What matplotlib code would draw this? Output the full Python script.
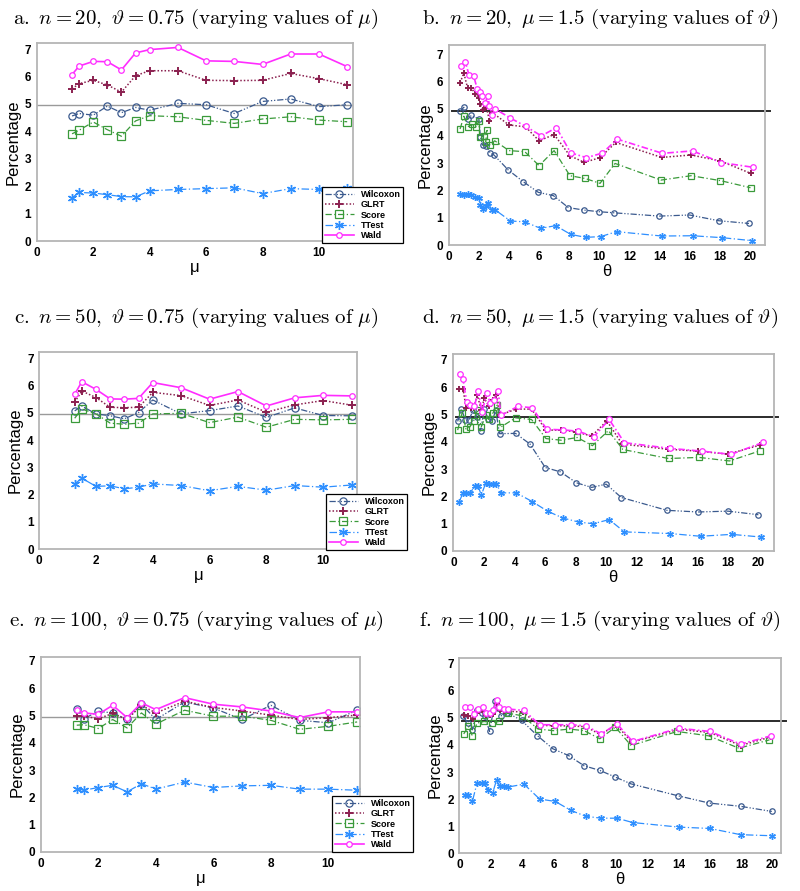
import matplotlib
matplotlib.use('Agg')
import matplotlib.pyplot as plt
from matplotlib.lines import Line2D

plt.rcParams['mathtext.fontset'] = 'cm'
plt.rcParams['font.family'] = ['Liberation Sans', 'DejaVu Sans']

# ---------------- data ----------------
# panels a, c, e : varying mu
mu_x = [1.25, 1.5, 2, 2.5, 3, 3.5, 4, 5, 6, 7, 8, 9, 10, 11]

a_wilcoxon = [4.56, 4.65, 4.59, 4.92, 4.68, 4.87, 4.77, 5.02, 4.97, 4.65, 5.09, 5.18, 4.90, 4.97]
a_glrt = [5.55, 5.74, 5.86, 5.69, 5.43, 6.03, 6.21, 6.21, 5.86, 5.85, 5.86, 6.11, 5.92, 5.70]
a_score = [3.91, 4.04, 4.34, 4.06, 3.82, 4.38, 4.57, 4.53, 4.40, 4.29, 4.45, 4.53, 4.41, 4.35]
a_ttest = [1.58, 1.77, 1.75, 1.69, 1.62, 1.61, 1.83, 1.88, 1.91, 1.94, 1.73, 1.91, 1.88, 1.94]
a_wald = [6.07, 6.38, 6.55, 6.54, 6.24, 6.86, 6.98, 7.06, 6.57, 6.55, 6.44, 6.82, 6.82, 6.36]

c_wilcoxon = [5.07, 5.25, 4.96, 4.89, 4.78, 5.01, 5.47, 4.96, 5.08, 5.25, 4.83, 5.18, 4.90, 4.89]
c_glrt = [5.39, 5.80, 5.56, 5.20, 5.19, 5.20, 5.75, 5.63, 5.27, 5.47, 5.02, 5.29, 5.45, 5.28]
c_score = [4.80, 5.14, 4.96, 4.62, 4.58, 4.62, 4.96, 4.98, 4.64, 4.84, 4.47, 4.76, 4.74, 4.76]
c_ttest = [2.39, 2.60, 2.30, 2.32, 2.21, 2.27, 2.39, 2.33, 2.14, 2.30, 2.16, 2.33, 2.27, 2.35]
c_wald = [5.68, 6.14, 5.86, 5.51, 5.50, 5.53, 6.11, 5.92, 5.50, 5.78, 5.25, 5.55, 5.64, 5.62]

e_wilcoxon = [5.25, 4.88, 5.15, 5.09, 4.85, 5.41, 4.85, 5.49, 5.27, 4.85, 5.37, 4.82, 4.73, 5.19]
e_glrt = [4.98, 4.97, 4.88, 5.07, 4.85, 5.37, 5.09, 5.52, 5.29, 5.16, 5.01, 4.85, 4.92, 5.01]
e_score = [4.64, 4.66, 4.52, 4.85, 4.54, 5.09, 4.68, 5.19, 4.97, 4.97, 4.82, 4.49, 4.60, 4.76]
e_ttest = [2.32, 2.26, 2.36, 2.44, 2.20, 2.50, 2.30, 2.56, 2.36, 2.42, 2.44, 2.30, 2.30, 2.26]
e_wald = [5.19, 5.09, 5.04, 5.37, 4.92, 5.46, 5.21, 5.65, 5.41, 5.31, 5.16, 4.92, 5.13, 5.13]

# panel b : n = 20, varying theta
b_wilcoxon_x = [0.75, 1.0, 1.25, 1.5, 2.0, 2.1, 2.25, 2.5, 2.75, 3.0, 3.95, 4.95, 5.95, 6.95, 7.95, 9.0, 10.0, 11.0, 14.0, 16.0, 17.95, 19.95]
b_wilcoxon = [4.9, 5.05, 4.6, 4.75, 4.62, 3.97, 3.66, 3.62, 3.38, 3.3, 2.75, 2.32, 1.93, 1.81, 1.37, 1.28, 1.22, 1.18, 1.06, 1.10, 0.89, 0.79]
b_glrt_x = [0.75, 1.0, 1.25, 1.5, 1.75, 2.0, 2.1, 2.25, 2.5, 2.7, 2.9, 4.0, 5.1, 6.0, 7.0, 8.05, 9.0, 10.05, 11.1, 14.15, 16.1, 18.05, 20.05]
b_glrt = [5.95, 6.3, 5.75, 5.75, 5.55, 5.4, 5.15, 4.95, 5.05, 4.55, 4.85, 4.4, 4.33, 3.82, 4.05, 3.27, 3.03, 3.2, 3.76, 3.21, 3.3, 3.08, 2.63]
b_score_x = [0.75, 1.0, 1.25, 1.55, 1.8, 2.0, 2.05, 2.35, 2.55, 2.45, 2.75, 3.05, 4.0, 5.05, 6.0, 7.0, 8.05, 9.05, 10.05, 11.05, 14.1, 16.1, 18.05, 20.05]
b_score = [4.25, 4.72, 4.33, 4.42, 4.33, 4.55, 3.97, 3.99, 4.2, 3.78, 3.66, 3.82, 3.46, 3.42, 2.91, 3.46, 2.54, 2.44, 2.26, 2.99, 2.38, 2.54, 2.36, 2.1]
b_ttest_x = [0.75, 1.0, 1.25, 1.5, 1.75, 2.0, 2.1, 2.25, 2.5, 2.6, 2.85, 3.05, 4.1, 5.05, 6.1, 7.1, 8.1, 9.1, 10.1, 11.15, 14.15, 16.2, 18.15, 20.15]
b_ttest = [1.87, 1.85, 1.87, 1.85, 1.75, 1.73, 1.45, 1.33, 1.43, 1.55, 1.3, 1.3, 0.88, 0.85, 0.61, 0.71, 0.39, 0.28, 0.31, 0.49, 0.33, 0.34, 0.27, 0.16]
b_wald_x = [0.8, 1.1, 1.35, 1.65, 1.9, 2.1, 2.2, 2.4, 2.6, 2.7, 2.9, 3.1, 4.1, 5.1, 6.15, 7.15, 8.1, 9.15, 10.2, 11.2, 14.2, 16.2, 18.1, 20.2]
b_wald = [6.55, 6.7, 6.22, 6.2, 5.7, 5.62, 5.45, 5.2, 5.45, 5.1, 4.75, 4.98, 4.65, 4.35, 4.0, 4.3, 3.38, 3.2, 3.37, 3.88, 3.36, 3.45, 3.02, 2.85]

# panel d : n = 50, varying theta
d_wilcoxon_x = [0.25, 0.5, 0.75, 1.0, 1.25, 1.5, 1.75, 2.0, 2.25, 2.5, 2.75, 3.0, 4.05, 5.0, 6.0, 7.0, 8.05, 9.05, 10.0, 11.0, 14.0, 16.05, 18.0, 20.0]
d_wilcoxon = [4.75, 5.2, 4.8, 4.8, 5.15, 4.9, 4.4, 5.2, 4.85, 4.75, 5.15, 4.3, 4.31, 3.92, 3.06, 2.90, 2.50, 2.33, 2.45, 1.96, 1.49, 1.43, 1.46, 1.33]
d_glrt_x = [0.35, 0.6, 0.8, 1.1, 1.3, 1.55, 1.8, 2.0, 2.3, 2.6, 2.8, 3.0, 4.1, 5.1, 6.05, 7.05, 8.0, 9.05, 10.05, 11.05, 14.05, 16.05, 18.0, 20.1]
d_glrt = [5.95, 5.95, 5.25, 5.25, 5.25, 5.7, 5.15, 5.6, 5.3, 5.55, 5.72, 4.98, 5.2, 5.2, 4.43, 4.43, 4.37, 4.21, 4.77, 3.92, 3.73, 3.66, 3.55, 3.88]
d_score_x = [0.25, 0.55, 0.8, 1.05, 1.3, 1.55, 1.8, 2.1, 2.3, 2.55, 2.85, 3.05, 4.05, 5.1, 6.05, 7.05, 8.1, 9.1, 10.15, 11.1, 14.1, 16.1, 18.1, 20.1]
d_score = [4.43, 5.07, 4.47, 4.55, 4.77, 5.17, 4.55, 4.98, 4.82, 5.04, 5.35, 4.53, 4.88, 4.82, 4.12, 4.06, 4.16, 3.86, 4.41, 3.72, 3.39, 3.43, 3.30, 3.67]
d_ttest_x = [0.35, 0.6, 0.8, 1.05, 1.4, 1.6, 1.8, 2.1, 2.3, 2.55, 2.8, 3.1, 4.1, 5.15, 6.15, 7.15, 8.2, 9.15, 10.2, 11.2, 14.2, 16.2, 18.25, 20.2]
d_ttest = [1.8, 2.13, 2.13, 2.13, 2.37, 2.37, 2.05, 2.5, 2.47, 2.45, 2.45, 2.13, 2.13, 1.81, 1.46, 1.21, 1.06, 1.0, 1.15, 0.70, 0.64, 0.54, 0.61, 0.51]
d_wald_x = [0.4, 0.6, 0.85, 1.05, 1.35, 1.6, 1.85, 2.15, 2.4, 2.65, 2.9, 3.1, 4.2, 5.15, 6.1, 7.15, 8.15, 9.2, 10.2, 11.2, 14.2, 16.3, 18.2, 20.3]
d_wald = [6.5, 6.3, 5.45, 5.35, 5.3, 5.88, 5.08, 5.78, 5.42, 5.55, 5.88, 4.97, 5.3, 5.25, 4.46, 4.44, 4.39, 4.19, 4.82, 3.97, 3.76, 3.66, 3.54, 3.98]

# panel f : n = 100, varying theta
f_wilcoxon_x = [0.2, 0.5, 0.8, 1.1, 1.4, 1.6, 1.9, 2.25, 2.45, 2.65, 3.0, 3.95, 4.95, 5.95, 6.95, 7.95, 8.95, 9.95, 10.95, 13.95, 15.95, 17.95, 19.95]
f_wilcoxon = [5.06, 4.83, 4.56, 5.3, 5.18, 5.08, 4.5, 5.61, 5.36, 5.08, 5.2, 4.91, 4.35, 3.86, 3.61, 3.23, 3.06, 2.81, 2.56, 2.12, 1.85, 1.73, 1.54]
f_glrt_x = [0.25, 0.55, 0.85, 1.1, 1.4, 1.65, 1.9, 2.1, 2.35, 2.55, 2.8, 3.05, 4.05, 5.05, 6.05, 7.05, 8.05, 9.0, 10.0, 11.0, 14.0, 16.0, 17.95, 19.9]
f_glrt = [5.12, 5.08, 4.96, 5.2, 5.3, 5.1, 5.12, 5.15, 5.5, 5.3, 5.25, 5.25, 5.22, 4.72, 4.72, 4.7, 4.68, 4.38, 4.75, 4.1, 4.58, 4.46, 3.98, 4.3]
f_score_x = [0.25, 0.55, 0.8, 1.1, 1.55, 2.05, 2.5, 3.05, 4.0, 5.0, 6.0, 7.0, 7.95, 8.95, 9.95, 10.95, 13.9, 15.9, 17.85, 19.8]
f_score = [4.41, 4.69, 4.34, 4.81, 4.87, 4.83, 4.87, 5.18, 5.08, 4.59, 4.53, 4.59, 4.53, 4.23, 4.66, 3.98, 4.50, 4.34, 3.88, 4.19]
f_ttest_x = [0.3, 0.55, 0.8, 1.1, 1.4, 1.6, 1.8, 2.1, 2.35, 2.55, 2.8, 3.05, 4.1, 5.1, 6.1, 7.1, 8.05, 9.05, 10.05, 11.05, 14.0, 16.0, 17.95, 19.95]
f_ttest = [2.16, 2.16, 1.91, 2.59, 2.59, 2.59, 2.34, 2.22, 2.71, 2.49, 2.47, 2.44, 2.55, 2.0, 1.91, 1.58, 1.36, 1.29, 1.29, 1.13, 0.96, 0.91, 0.68, 0.64]
f_wald_x = [0.35, 0.65, 0.9, 1.15, 1.45, 1.65, 1.9, 2.15, 2.35, 2.5, 2.8, 3.1, 4.1, 5.1, 6.1, 7.1, 8.05, 9.05, 10.05, 11.05, 14.0, 16.0, 17.95, 19.9]
f_wald = [5.39, 5.39, 5.15, 5.34, 5.40, 5.18, 5.20, 5.30, 5.65, 5.40, 5.33, 5.33, 5.28, 4.75, 4.75, 4.75, 4.71, 4.41, 4.78, 4.13, 4.62, 4.50, 4.03, 4.34]

titles = [r'$\mathrm{a.}\ n = 20,\ \vartheta = 0.75\ \mathrm{(varying\ values\ of}\ \mu\mathrm{)}$',
          r'$\mathrm{b.}\ n = 20,\ \mu = 1.5\ \mathrm{(varying\ values\ of}\ \vartheta\mathrm{)}$',
          r'$\mathrm{c.}\ n = 50,\ \vartheta = 0.75\ \mathrm{(varying\ values\ of}\ \mu\mathrm{)}$',
          r'$\mathrm{d.}\ n = 50,\ \mu = 1.5\ \mathrm{(varying\ values\ of}\ \vartheta\mathrm{)}$',
          r'$\mathrm{e.}\ n = 100,\ \vartheta = 0.75\ \mathrm{(varying\ values\ of}\ \mu\mathrm{)}$',
          r'$\mathrm{f.}\ n = 100,\ \mu = 1.5\ \mathrm{(varying\ values\ of}\ \vartheta\mathrm{)}$']

# ---------------- styles ----------------
col_wil = '#3b5a8e'
col_glrt = '#8b2150'
col_score = '#3a9a3a'
col_tt = '#2e8fff'
col_wald = '#ff2cff'
asterisk = (6, 2, 0)

def styles(theta):
    wald_ls = (0, (4, 1.5, 1, 1.5)) if theta else '-'
    ms = 0.75 if theta else 1.0
    return [
        ('Wilcoxon', dict(color=col_wil, ls=(0, (5, 1.5, 1, 1.5, 1, 1.5)), lw=0.9, marker='o', ms=5.2*ms, mfc='none', mec=col_wil, mew=0.9)),
        ('GLRT', dict(color=col_glrt, ls=(0, (1, 1.3)), lw=1.1, marker='+', ms=6*ms, mec=col_glrt, mew=1.4)),
        ('Score', dict(color=col_score, ls=(0, (5, 2, 1, 2)), lw=0.9, marker='s', ms=5.2*ms, mfc='none', mec=col_score, mew=0.9)),
        ('TTest', dict(color=col_tt, ls=(0, (6, 2, 1, 2)), lw=0.9, marker=asterisk, ms=6.5*ms, mec=col_tt, mew=1.0)),
        ('Wald', dict(color=col_wald, ls=wald_ls, lw=1.2, marker='o', ms=4.0, mfc='white', mec=col_wald, mew=0.9)),
    ]

fig = plt.figure(figsize=(8, 8.91), dpi=100)

# axes rectangles in figure fraction (left, bottom, width, height)
rects = [(0.046, 0.7295, 0.395, 0.2222),
         (0.561, 0.7250, 0.395, 0.2245),
         (0.049, 0.3838, 0.3975, 0.2211),
         (0.566, 0.3816, 0.401, 0.2211),
         (0.051, 0.0438, 0.399, 0.2189),
         (0.574, 0.0426, 0.4025, 0.2189)]
title_pos = [(0.245, 0.979), (0.75, 0.979), (0.245, 0.643), (0.75, 0.643), (0.245, 0.303), (0.75, 0.303)]

panels = [
    (False, [(mu_x, a_wilcoxon), (mu_x, a_glrt), (mu_x, a_score), (mu_x, a_ttest), (mu_x, a_wald)], (0, 11.2), (0, 7.22)),
    (True, [(b_wilcoxon_x, b_wilcoxon), (b_glrt_x, b_glrt), (b_score_x, b_score), (b_ttest_x, b_ttest), (b_wald_x, b_wald)], (0, 21), (0, 7.33)),
    (False, [(mu_x, c_wilcoxon), (mu_x, c_glrt), (mu_x, c_score), (mu_x, c_ttest), (mu_x, c_wald)], (0, 11.2), (0, 7.23)),
    (True, [(d_wilcoxon_x, d_wilcoxon), (d_glrt_x, d_glrt), (d_score_x, d_score), (d_ttest_x, d_ttest), (d_wald_x, d_wald)], (-0.07, 21), (0, 7.22)),
    (False, [(mu_x, e_wilcoxon), (mu_x, e_glrt), (mu_x, e_score), (mu_x, e_ttest), (mu_x, e_wald)], (0, 11.1), (0, 7.14)),
    (True, [(f_wilcoxon_x, f_wilcoxon), (f_glrt_x, f_glrt), (f_score_x, f_score), (f_ttest_x, f_ttest), (f_wald_x, f_wald)], (-0.04, 20.55), (0, 7.22)),
]
legend_anchor = [(322/800, 1-243/891), None, (326/800, 1-550/891), None, (332/800, 1-852/891), None]

for i, (theta, series, xl, yl) in enumerate(panels):
    ax = fig.add_axes(rects[i])
    st = styles(theta)
    handles = []
    for (xs, ys), (lab, kw) in zip(series, st):
        ax.plot(xs, ys, **kw)
        handles.append(Line2D([], [], label=lab, **kw))
    if theta:
        ax.axhline(4.9, xmin=0.01, xmax=1.015, color='#2b2b2b', lw=1.4, clip_on=False, zorder=1)
        ax.set_xticks(range(0, 21, 2))
        ax.set_xlabel('θ', fontsize=12, labelpad=1)
    else:
        ax.axhline(4.95, color='#9a9a9a', lw=1.0, zorder=1)
        ax.set_xticks(range(0, 11, 2))
        ax.set_xlabel('μ', fontsize=12, labelpad=1)
    ax.set_xlim(*xl)
    ax.set_ylim(*yl)
    ax.set_yticks(range(0, 8))
    ax.tick_params(length=0, labelsize=8.5, pad=4)
    for lab in ax.get_xticklabels() + ax.get_yticklabels():
        lab.set_fontweight('bold')
    for sp in ax.spines.values():
        sp.set_color('#b5b5b5')
        sp.set_linewidth(1.3)
    ax.set_ylabel('Percentage', fontsize=12, labelpad=3)
    fig.text(title_pos[i][0], title_pos[i][1], titles[i], ha='center', va='center', fontsize=15)
    if legend_anchor[i] is not None:
        leg = ax.legend(handles=handles, loc='lower left', bbox_to_anchor=legend_anchor[i],
                        bbox_transform=fig.transFigure, borderaxespad=0, fancybox=False,
                        framealpha=1, edgecolor='black', prop=dict(size=6.5, weight='bold'),
                        handlelength=3.2, labelspacing=0.15, borderpad=0.3, handletextpad=0.8)
        leg.get_frame().set_linewidth(0.9)
        leg.set_zorder(10)

fig.savefig('out.png', dpi=100)
